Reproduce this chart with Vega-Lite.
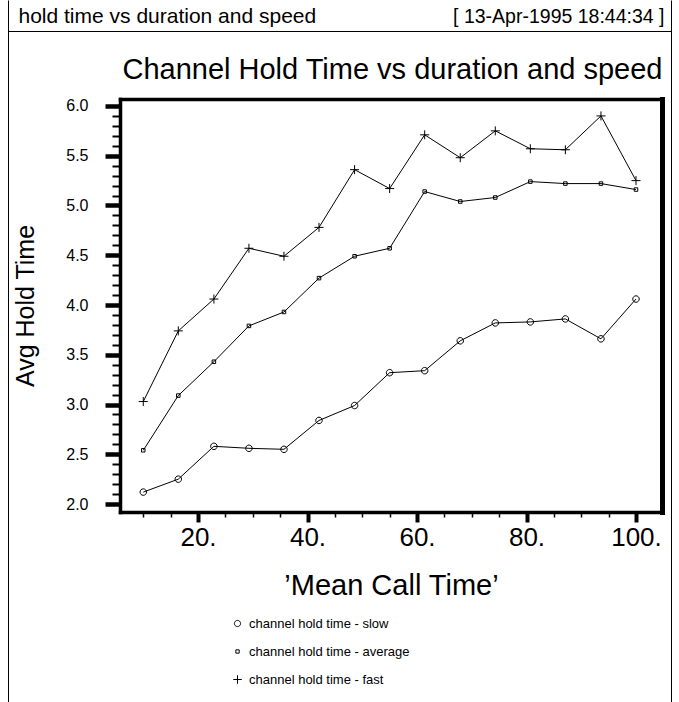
{
  "$schema": "https://vega.github.io/schema/vega-lite/v6.json",
  "autosize": "none",
  "width": 663,
  "height": 702,
  "padding": {"left": 8, "top": 0, "right": 8, "bottom": 0},
  "config": {
    "font": "Liberation Sans",
    "view": {"stroke": null},
    "axis": {"labelColor": "black", "tickColor": "black", "titleColor": "black", "domainColor": "black", "titleFontWeight": "normal", "grid": false},
    "legend": {"labelColor": "black"}
  },
  "datasets": {
    "hold": [
      {"t": 10, "series": "channel hold time - slow", "v": 2.12},
      {"t": 16.4, "series": "channel hold time - slow", "v": 2.25},
      {"t": 22.9, "series": "channel hold time - slow", "v": 2.58},
      {"t": 29.3, "series": "channel hold time - slow", "v": 2.56},
      {"t": 35.7, "series": "channel hold time - slow", "v": 2.55},
      {"t": 42.1, "series": "channel hold time - slow", "v": 2.84},
      {"t": 48.6, "series": "channel hold time - slow", "v": 2.99},
      {"t": 55, "series": "channel hold time - slow", "v": 3.32},
      {"t": 61.4, "series": "channel hold time - slow", "v": 3.34},
      {"t": 67.9, "series": "channel hold time - slow", "v": 3.64},
      {"t": 74.3, "series": "channel hold time - slow", "v": 3.82},
      {"t": 80.7, "series": "channel hold time - slow", "v": 3.83},
      {"t": 87.1, "series": "channel hold time - slow", "v": 3.86},
      {"t": 93.6, "series": "channel hold time - slow", "v": 3.66},
      {"t": 100, "series": "channel hold time - slow", "v": 4.06},
      {"t": 10, "series": "channel hold time - average", "v": 2.54},
      {"t": 16.4, "series": "channel hold time - average", "v": 3.09},
      {"t": 22.9, "series": "channel hold time - average", "v": 3.43},
      {"t": 29.3, "series": "channel hold time - average", "v": 3.79},
      {"t": 35.7, "series": "channel hold time - average", "v": 3.93},
      {"t": 42.1, "series": "channel hold time - average", "v": 4.27},
      {"t": 48.6, "series": "channel hold time - average", "v": 4.49},
      {"t": 55, "series": "channel hold time - average", "v": 4.57},
      {"t": 61.4, "series": "channel hold time - average", "v": 5.14},
      {"t": 67.9, "series": "channel hold time - average", "v": 5.04},
      {"t": 74.3, "series": "channel hold time - average", "v": 5.08},
      {"t": 80.7, "series": "channel hold time - average", "v": 5.24},
      {"t": 87.1, "series": "channel hold time - average", "v": 5.22},
      {"t": 93.6, "series": "channel hold time - average", "v": 5.22},
      {"t": 100, "series": "channel hold time - average", "v": 5.16},
      {"t": 10, "series": "channel hold time - fast", "v": 3.03},
      {"t": 16.4, "series": "channel hold time - fast", "v": 3.74},
      {"t": 22.9, "series": "channel hold time - fast", "v": 4.06},
      {"t": 29.3, "series": "channel hold time - fast", "v": 4.57},
      {"t": 35.7, "series": "channel hold time - fast", "v": 4.49},
      {"t": 42.1, "series": "channel hold time - fast", "v": 4.78},
      {"t": 48.6, "series": "channel hold time - fast", "v": 5.36},
      {"t": 55, "series": "channel hold time - fast", "v": 5.17},
      {"t": 61.4, "series": "channel hold time - fast", "v": 5.71},
      {"t": 67.9, "series": "channel hold time - fast", "v": 5.48},
      {"t": 74.3, "series": "channel hold time - fast", "v": 5.75},
      {"t": 80.7, "series": "channel hold time - fast", "v": 5.57},
      {"t": 87.1, "series": "channel hold time - fast", "v": 5.56},
      {"t": 93.6, "series": "channel hold time - fast", "v": 5.90},
      {"t": 100, "series": "channel hold time - fast", "v": 5.25}
    ]
  },
  "data": {"name": "hold"},
  "resolve": {
    "scale": {"x": "independent", "y": "independent"},
    "axis": {"x": "independent", "y": "independent"}
  },
  "layer": [
    {
      "mark": {"type": "line", "color": "black", "strokeWidth": 1},
      "encoding": {
        "detail": {"field": "series", "type": "nominal"},
        "x": {
          "field": "t", "type": "quantitative",
          "scale": {"domain": [5.75, 104.75], "range": [112, 654], "nice": false, "zero": false},
          "axis": {
            "orient": "bottom", "offset": -190,
            "values": [10, 15, 20, 25, 30, 35, 40, 45, 50, 55, 60, 65, 70, 75, 80, 85, 90, 95, 100],
            "domain": true, "domainWidth": 3.5, "domainCap": "square",
            "tickSize": {"condition": {"test": "datum.value % 20 == 0", "value": 10}, "value": 5},
            "tickWidth": {"condition": {"test": "datum.value % 20 == 0", "value": 4}, "value": 1.5},
            "labelExpr": "datum.value % 20 == 0 ? datum.value + '.' : ''",
            "labelFontSize": 26,
            "labelPadding": 2,
            "labelOverlap": false,
            "labelFlush": false,
            "labelBound": false,
            "title": "’Mean Call Time’",
            "titleFontSize": 29,
            "titlePadding": 21
          }
        },
        "y": {
          "field": "v", "type": "quantitative",
          "scale": {"domain": [1.92, 6.07], "range": [512, 99], "nice": false, "zero": false},
          "axis": {
            "orient": "left", "offset": -112,
            "values": [2.0, 2.1, 2.2, 2.3, 2.4, 2.5, 2.6, 2.7, 2.8, 2.9, 3.0, 3.1, 3.2, 3.3, 3.4, 3.5, 3.6, 3.7, 3.8, 3.9, 4.0, 4.1, 4.2, 4.3, 4.4, 4.5, 4.6, 4.7, 4.8, 4.9, 5.0, 5.1, 5.2, 5.3, 5.4, 5.5, 5.6, 5.7, 5.8, 5.9, 6.0],
            "domain": true, "domainWidth": 3.5, "domainCap": "square",
            "tickSize": {"condition": {"test": "round(datum.value * 10) % 5 == 0", "value": 15}, "value": 8},
            "tickWidth": {"condition": {"test": "round(datum.value * 10) % 5 == 0", "value": 4.5}, "value": 2},
            "labelExpr": "round(datum.value * 10) % 5 == 0 ? format(datum.value, '.1f') : ''",
            "labelFontSize": 16,
            "labelPadding": 17,
            "labelOverlap": false,
            "labelFlush": false,
            "labelBound": false,
            "title": "Avg Hold Time",
            "titleFontSize": 25,
            "titlePadding": 27
          }
        }
      }
    },
    {
      "mark": {"type": "point", "filled": false, "color": "black", "strokeWidth": 1, "opacity": 1, "size": 100},
      "encoding": {
        "x": {
          "field": "t", "type": "quantitative",
          "scale": {"domain": [5.75, 104.75], "range": [112, 654], "nice": false, "zero": false},
          "axis": {
            "orient": "top", "offset": -99,
            "domain": true, "domainWidth": 3.5, "domainCap": "square",
            "ticks": false, "labels": false,
            "title": "Channel Hold Time vs duration and speed",
            "titleFontSize": 29,
            "titleAnchor": "end",
            "titlePadding": 15
          }
        },
        "y": {
          "field": "v", "type": "quantitative",
          "scale": {"domain": [1.92, 6.07], "range": [512, 99], "nice": false, "zero": false},
          "axis": {
            "orient": "right", "offset": -9,
            "domain": true, "domainWidth": 5, "domainCap": "square",
            "ticks": false, "labels": false, "title": null
          }
        },
        "shape": {
          "field": "series", "type": "nominal",
          "scale": {
            "domain": ["channel hold time - slow", "channel hold time - average", "channel hold time - fast"],
            "range": [
              "M0.65,0A0.65,0.65,0,1,1,-0.65,0A0.65,0.65,0,1,1,0.65,0Z",
              "M-0.35,-0.35H0.35V0.35H-0.35Z",
              "M-0.9,0H0.9M0,-0.9V0.9"
            ]
          },
          "legend": {
            "orient": "none", "legendX": 223, "legendY": 617, "title": null,
            "labelFontSize": 13, "labelLimit": 400, "rowPadding": 14, "labelOffset": 5, "padding": 0,
            "symbolSize": 90, "symbolStrokeColor": "black", "symbolStrokeWidth": 1
          }
        }
      }
    },
    {
      "mark": {"type": "point", "opacity": 0},
      "encoding": {
        "x": {
          "datum": 0, "type": "quantitative",
          "scale": {"domain": [0, 1]},
          "axis": {
            "orient": "top", "offset": -31,
            "domain": true, "domainWidth": 1,
            "ticks": false, "labels": false,
            "title": "hold time vs duration and speed",
            "titleFontSize": 21,
            "titleAngle": 0,
            "titleAlign": "left",
            "titleBaseline": "middle",
            "titleX": 10,
            "titleY": -15
          }
        },
        "y": {
          "datum": 0, "type": "quantitative",
          "scale": {"domain": [0, 1]},
          "axis": {
            "orient": "left", "offset": 0,
            "domain": true, "domainWidth": 1,
            "ticks": false, "labels": false, "title": null
          }
        }
      }
    },
    {
      "mark": {"type": "point", "opacity": 0},
      "encoding": {
        "x": {
          "datum": 0, "type": "quantitative",
          "scale": {"domain": [0, 1]},
          "axis": {
            "orient": "top", "offset": -31,
            "domain": false,
            "ticks": false, "labels": false,
            "title": "[ 13-Apr-1995 18:44:34 ]",
            "titleFontSize": 19.5,
            "titleAngle": 0,
            "titleAlign": "right",
            "titleBaseline": "middle",
            "titleX": 656,
            "titleY": -15
          }
        },
        "y": {
          "datum": 0, "type": "quantitative",
          "scale": {"domain": [0, 1]},
          "axis": {
            "orient": "right", "offset": 0,
            "domain": true, "domainWidth": 1,
            "ticks": false, "labels": false, "title": null
          }
        }
      }
    }
  ]
}
